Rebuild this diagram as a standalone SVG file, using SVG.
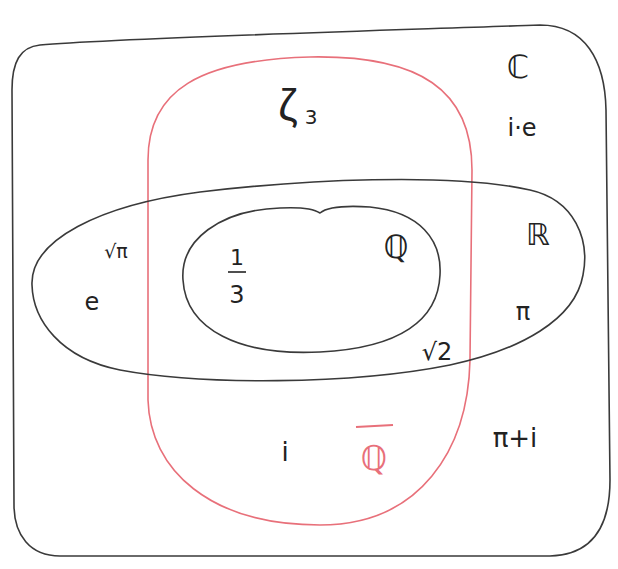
<svg xmlns="http://www.w3.org/2000/svg" width="618" height="569" viewBox="0 0 618 569">
<style>
.set{fill:none;stroke:#3a3a3a;stroke-width:1.6;stroke-linejoin:round}
.red{fill:none;stroke:#e8707a;stroke-width:1.6}
.t{font-family:"DejaVu Sans",sans-serif;fill:#222}
</style>
<rect width="618" height="569" fill="#fff"/>
<g id="complex">
<path class="set" d="M 40,45 C 120,38 400,30 540,25 C 585,25 605,60 606,110 L 610,480 C 610,530 590,555 550,556 L 60,556 C 30,556 14,535 14,505 L 12,90 C 12,62 20,47 40,45 Z"/>
<text class="t" x="518" y="78" font-size="32" text-anchor="middle">ℂ</text>
<text class="t" x="522" y="136" font-size="24" text-anchor="middle">i·e</text>
<text class="t" x="515" y="447" font-size="26" text-anchor="middle">π+i</text>
</g>
<g id="algebraic">
<path class="red" d="M 310,57 C 420,55 472,90 472,170 L 470,360 C 468,450 420,525 320,525 C 210,525 150,470 148,400 L 148,160 C 148,90 200,60 310,57 Z"/>
<text x="374" y="470" font-size="34" text-anchor="middle" style="font-family:'DejaVu Sans',sans-serif;fill:#e8707a">ℚ</text>
<line x1="356" y1="427" x2="393" y2="425" stroke="#e8707a" stroke-width="2"/>
<text x="288" y="120" font-size="44" text-anchor="middle" style="font-family:'Liberation Sans',sans-serif;fill:#222">ζ</text>
<text class="t" x="311" y="124" font-size="20" text-anchor="middle">3</text>
<text class="t" x="285" y="461" font-size="26" text-anchor="middle">i</text>
</g>
<g id="real">
<path class="set" d="M 32,285 C 30,240 100,205 200,192 C 300,180 450,172 530,190 C 575,200 590,240 583,275 C 575,320 520,350 450,365 C 350,385 200,385 120,370 C 60,358 33,320 32,285 Z"/>
<text class="t" x="538" y="245" font-size="30" text-anchor="middle">ℝ</text>
<text class="t" x="523" y="320" font-size="24" text-anchor="middle">π</text>
<text class="t" x="92" y="310" font-size="24" text-anchor="middle">e</text>
<text class="t" x="116" y="258" font-size="19" text-anchor="middle">√π</text>
<text class="t" x="437" y="360" font-size="24" text-anchor="middle">√2</text>
</g>
<g id="rational">
<path class="set" d="M 183,280 C 180,240 220,210 280,208 C 300,207 314,209 320,213 C 326,208 340,205 370,207 C 420,212 442,240 440,275 C 438,320 400,348 320,352 C 240,356 186,330 183,280 Z"/>
<text class="t" x="396" y="258" font-size="32" text-anchor="middle">ℚ</text>
<text class="t" x="237" y="265" font-size="22" text-anchor="middle">1</text>
<line x1="228" y1="272" x2="246" y2="272" stroke="#222" stroke-width="1.6"/>
<text class="t" x="237" y="303" font-size="24" text-anchor="middle">3</text>
</g>
<g id="connectors"/>
</svg>
